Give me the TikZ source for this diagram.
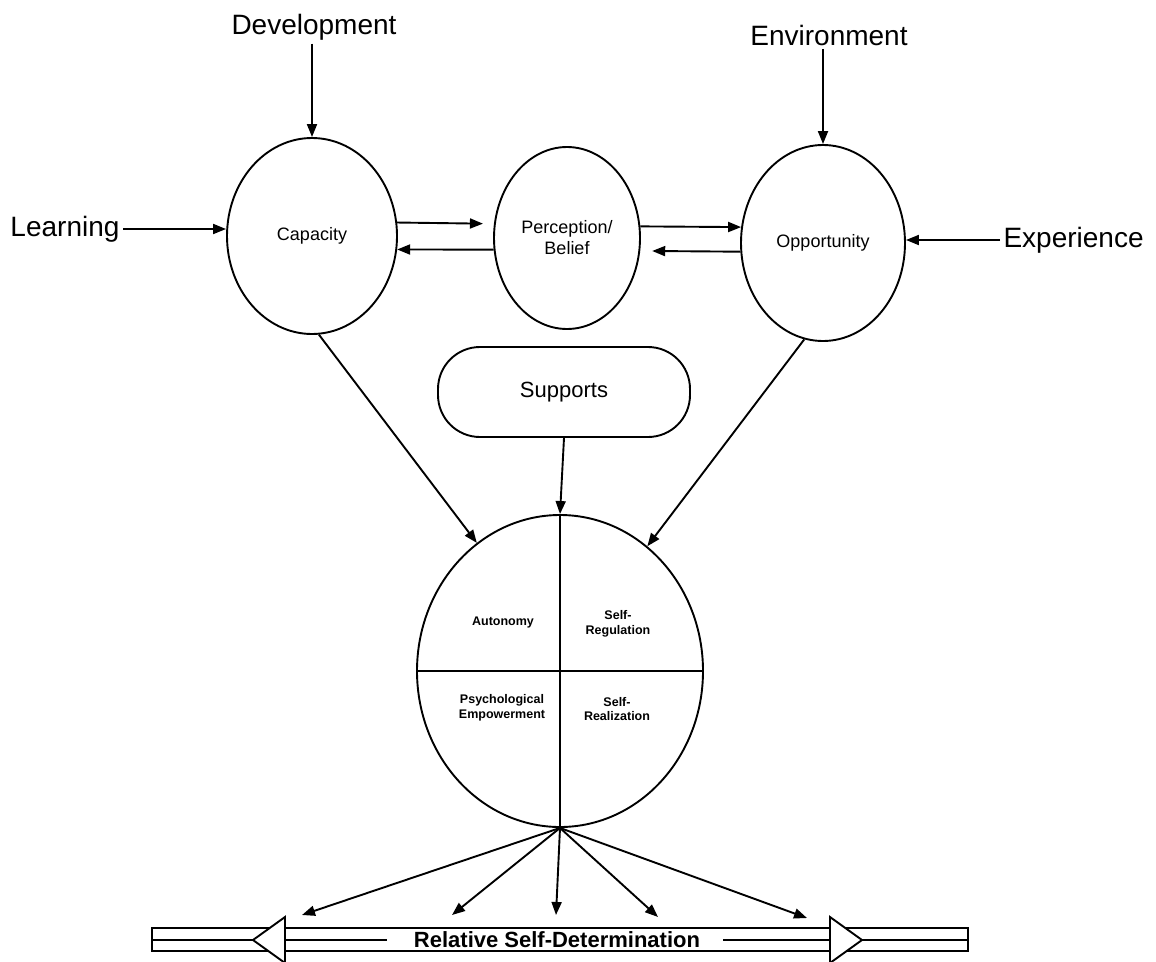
\documentclass[tikz,border=0pt]{standalone}
\usepackage{fontspec}
\setmainfont{Liberation Sans}
\usetikzlibrary{shapes.geometric,arrows.meta}
\begin{document}
\begin{tikzpicture}[x=1pt,y=-1pt,
  ln/.style={line width=1.9pt},
  arr/.style={ln,-{Triangle[length=13pt,width=10pt]}},
  oval/.style={ellipse,draw,line width=1.9pt,inner sep=0pt},
  big/.style={font=\fontsize{28}{30}\selectfont},
  mid/.style={font=\fontsize{18}{21}\selectfont},
  small/.style={font=\bfseries\fontsize{12.5}{14.5}\selectfont,align=center},
]
\useasboundingbox (0,0) rectangle (1156,961);

% outer labels
\node[big] (dev) at (314,27) {Development};
\node[big] (env) at (829,35) {Environment};
\node[big,anchor=east] (learn) at (123,229) {Learning};
\node[big,anchor=west] (exp) at (1000,240) {Experience};

% top circles
\node[oval,minimum width=170pt,minimum height=196pt,mid] (cap) at (312,236) {\raisebox{-8pt}{Capacity}};
\node[oval,minimum width=146pt,minimum height=182pt,mid,align=center] (per) at (567,238) {Perception/\\Belief};
\node[oval,minimum width=164pt,minimum height=196pt,mid] (opp) at (823,243) {\raisebox{-10pt}{Opportunity}};

% supports
\node[draw,ln,rounded corners=42pt,minimum width=252pt,minimum height=90pt,font=\fontsize{22}{24}\selectfont] (sup) at (564,392) {Supports};

% big circle
\node[oval,minimum width=286pt,minimum height=312pt] (bigc) at (560,671) {};
\draw[ln] (bigc.west) -- (bigc.east);
\draw[ln] (bigc.north) -- (bigc.south);
\node[small] (aut) at (503,622) {Autonomy};
\node[small] (sreg) at (618,624) {Self-\\Regulation};
\node[small] (psy) at (502,708) {Psychological\\Empowerment};
\node[small] (sreal) at (617,709) {Self-\\Realization};

% arrows into top circles
\draw[arr] (dev.south -| cap.north) -- (cap.north);
\draw[arr] (env.south -| opp.north) -- (opp.north);
\draw[arr] (learn.east) -- (learn.east -| cap.west);
\draw[arr] (exp.west) -- (exp.west -| opp.east);

% between circles
\draw[arr,shorten >=11pt] (cap.9) -- (per.169);
\draw[arr] (per.189) -- (cap.-9);
\draw[arr] (per.9) -- (opp.169);
\draw[arr,shorten >=12pt] (opp.186) -- (per.-10);

% into big circle
\draw[arr] (cap.-86) -- (bigc.123);
\draw[arr] (opp.-101) -- (bigc.55);
\draw[arr] (sup.south) -- (bigc.north);

% fan
\coordinate (f1) at (302,915);
\coordinate (f2) at (452,915);
\coordinate (f3) at (556,915);
\coordinate (f4) at (658,917);
\coordinate (f5) at (807,918);
\foreach \f in {f1,f2,f3,f4,f5}{\draw[arr] (bigc.south) -- (\f);}

% bottom bar
\draw[ln] (152,928) rectangle (968,951);
\draw[ln] (152,940) -- (253,940);
\draw[ln] (285,940) -- (387,940);
\draw[ln] (723,940) -- (830,940);
\draw[ln] (862,940) -- (968,940);
\draw[ln,fill=white] (285,917) -- (253,940) -- (285,963) -- cycle;
\draw[ln,fill=white] (830,917) -- (862,940) -- (830,963) -- cycle;
\node[font=\bfseries\fontsize{22}{24}\selectfont,inner sep=1pt] (rsd) at (557,940) {Relative Self-Determination};
\end{tikzpicture}
\end{document}
